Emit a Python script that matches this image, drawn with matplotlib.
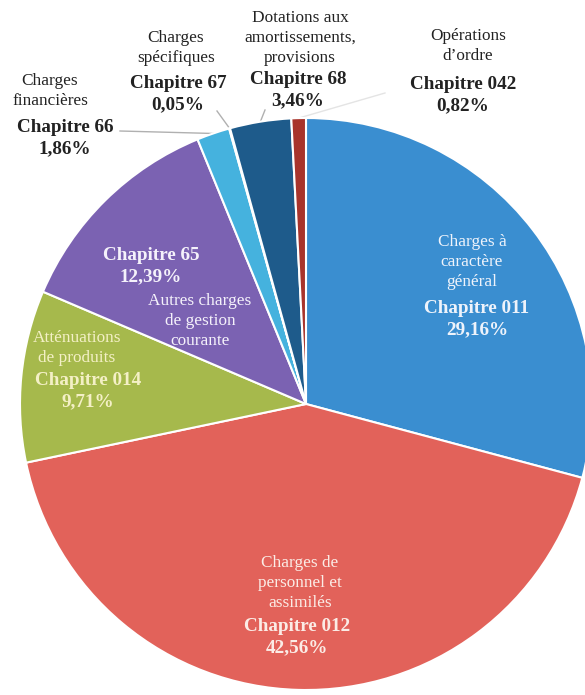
import numpy as np
import matplotlib
matplotlib.use("Agg")
import matplotlib.pyplot as plt

# ---------------- data ----------------
codes = ["011", "012", "014", "65", "66", "67", "68", "042"]
values = [29.16, 42.56, 9.71, 12.39, 1.86, 0.05, 3.46, 0.82]
pct_labels = ["29,16%", "42,56%", "9,71%", "12,39%", "1,86%", "0,05%", "3,46%", "0,82%"]
names = [
    "Charges à\ncaractère\ngénéral",
    "Charges de\npersonnel et\nassimilés",
    "Atténuations\nde produits",
    "Autres charges\nde gestion\ncourante",
    "Charges\nfinancières",
    "Charges\nspécifiques",
    "Dotations aux\namortissements,\nprovisions",
    "Opérations\nd’ordre",
]
colors = ["#3a8ed0", "#e2625a", "#a6b94c", "#7b62b2", "#45b2de", "#9cc8e6", "#1e5b8b", "#a8342c"]

# ---------------- layout ----------------
W, H = 585, 695
fig = plt.figure(figsize=(W / 100, H / 100), dpi=100)
ax = fig.add_axes([0, 0, 1, 1])

cx, cy, r = 306, H - 404, 286
wedges, _ = ax.pie(values, colors=colors, startangle=90, counterclock=False,
                   center=(cx, cy), radius=r,
                   wedgeprops=dict(edgecolor="white", linewidth=1.5))
ax.set_xlim(0, W)
ax.set_ylim(0, H)
ax.set_aspect("equal")
ax.axis("off")

SERIF = ["Liberation Serif", "DejaVu Serif"]

# (name_x, name_y, bold_x, bold_y, color) in image pixel coords
pos = {
    "011": (472, 262, 477, 319, "#eef3fb"),
    "012": (300, 583, 297, 637, "#fbece6"),
    "014": (77, 348, 88, 391, "#f4f0c6"),
    "65": (200, 321, 151, 266, "#f5f2fb"),
    "66": (50, 91, 65, 138, "#222222"),
    "67": (176, 48, 178, 94, "#222222"),
    "68": (300, 38, 298, 90, "#222222"),
    "042": (468, 46, 463, 95, "#222222"),
}

for i, c in enumerate(codes):
    nx, ny, bx, by, col = pos[c]
    ax.text(nx, H - ny, names[i], ha="center", va="center", fontsize=12.4,
            family=SERIF, color=col, linespacing=1.33)
    ax.text(bx, H - by, f"Chapitre {c}\n{pct_labels[i]}", ha="center", va="center",
            fontsize=13.8, family=SERIF, fontweight="bold", color=col, linespacing=1.27)

# leader lines from outside labels to their slices
leaders = {"66": (120, 131), "67": (217, 111), "68": (265, 110), "042": (385, 93)}
lcol = {"66": "#b0b0b0", "67": "#b0b0b0", "68": "#b0b0b0", "042": "#e4e4e4"}
for c, (lx, ly) in leaders.items():
    w = wedges[codes.index(c)]
    mid = np.deg2rad((w.theta1 + w.theta2) / 2)
    px, py = cx + r * np.cos(mid), cy + r * np.sin(mid)
    ax.plot([lx, px], [H - ly, py], color=lcol[c], lw=1.0, zorder=0.5)

fig.savefig("out.png", dpi=100)
